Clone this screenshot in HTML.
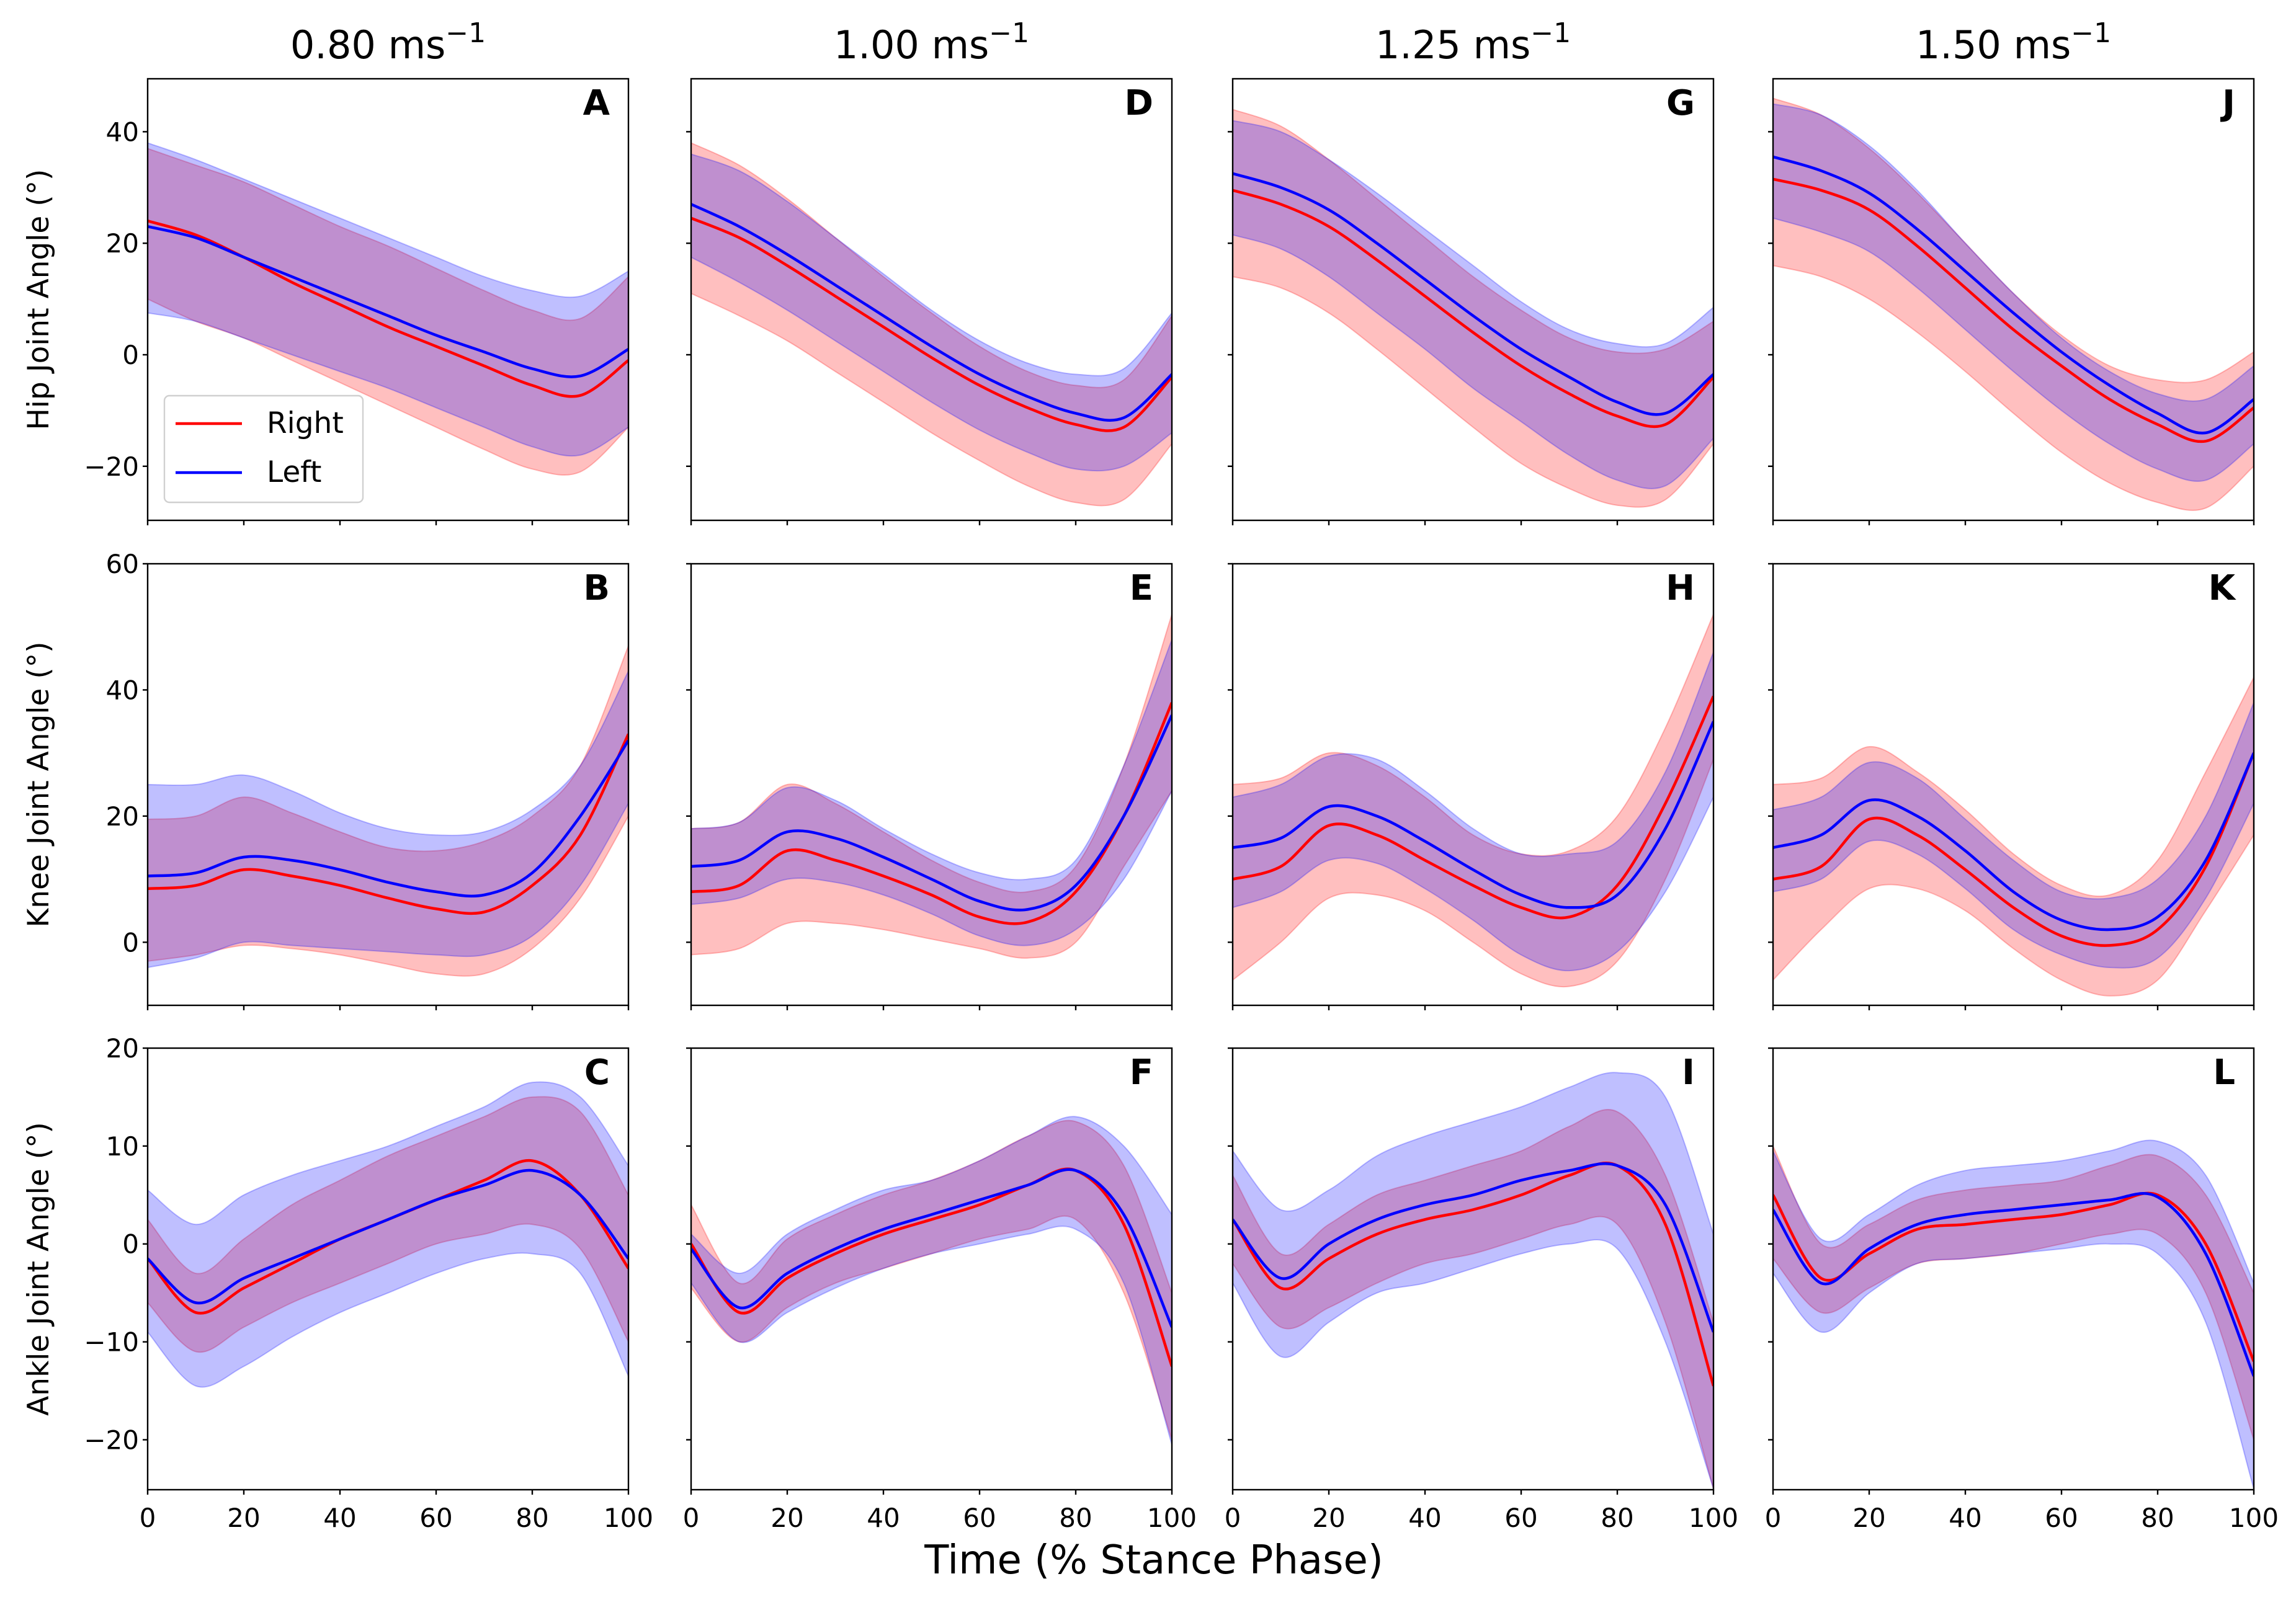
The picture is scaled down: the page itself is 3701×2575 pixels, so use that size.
<!DOCTYPE html>
<html><head><meta charset="utf-8">
<style>
html,body{margin:0;padding:0;background:#fff;}
svg{display:block;font-family:"DejaVu Sans","Liberation Sans",sans-serif;}
</style></head>
<body>
<svg id="fig" width="3701" height="2575" viewBox="0 0 3701 2575" xmlns="http://www.w3.org/2000/svg"></svg>
<script>
// ---- data (x = 0,10,...,100 % stance) ----
const xs = [0,10,20,30,40,50,60,70,80,90,100];
const speeds = ["0.80","1.00","1.25","1.50"];
const joints = ["Hip","Knee","Ankle"];
const letters = [["A","D","G","J"],["B","E","H","K"],["C","F","I","L"]];
const yRanges = [[-29.7,49.5],[-10,60],[-25.1,20]];
const yTicks = [[-20,0,20,40],[0,20,40,60],[-20,-10,0,10,20]];
const xTicks = [0,20,40,60,80,100];

// Hip
const hipA_R = [24,21.5,17.5,13,9,5,1.5,-2,-5.5,-7.3,-1];
const hipA_L = [23,21,17.5,14,10.5,7,3.5,0.5,-2.5,-3.8,1];
const hipA_RU = [37,34,31,27,23,19.5,15.5,11.5,8,6.5,14];
const hipA_RL = [10,6,3,-1,-5,-9,-13,-17,-20.5,-21,-13];
const hipA_LU = [38,35,31.5,28,24.5,21,17.5,14,11.5,10.5,15];
const hipA_LL = [7.5,6,3,0,-3,-6,-9.5,-13,-16.5,-18,-13];

const hipD_R = [24.5,21,16,10.5,5,-0.5,-5.5,-9.5,-12.5,-13,-4];
const hipD_L = [27,23,18,12.5,7,1.5,-3.5,-7.5,-10.5,-11.3,-3.5];
const hipD_RU = [38,34,28,21,14,7.5,1.5,-3,-5.5,-4.5,7];
const hipD_RL = [11,7,2.5,-3,-8.5,-14,-19,-23.5,-26.5,-26,-16];
const hipD_LU = [36,33,27.5,21,14.5,8,2.5,-1.5,-3.5,-2.5,7.5];
const hipD_LL = [17.5,13,8,2.5,-3,-8.5,-13.5,-17.5,-20.5,-20,-14];

const hipG_R = [29.5,27,23,17,10.5,4,-2,-7,-11,-12.5,-4];
const hipG_L = [32.5,30,26,20,13.5,7,1,-4,-8.5,-10.5,-3.5];
const hipG_RU = [44,41,35,28,21,14,8,3,0.5,1,6];
const hipG_RL = [14,12,7.5,1,-6,-13,-19.5,-24,-27,-26,-16];
const hipG_LU = [42,40,35,29,22.5,16,9.5,4.5,2,2,8.5];
const hipG_LL = [21.5,19,14,7.5,1,-6,-12,-18,-22.5,-23.5,-15];

const hipJ_R = [31.5,29.5,26,19.5,12,4.5,-2,-8,-12.5,-15.5,-9.5];
const hipJ_L = [35.5,33,29,22.5,15,7.5,0.5,-5.5,-10.5,-14,-8];
const hipJ_RU = [46,43,37,29,20,11,3.5,-2,-4.5,-4.5,0.5];
const hipJ_RL = [16,14,10,4,-3,-10.5,-17.5,-23,-26.5,-27.5,-20];
const hipJ_LU = [45,43,37.5,29.5,20,11,3,-3,-7,-8,-2];
const hipJ_LL = [24.5,22,18.5,12,4.5,-3,-10,-16,-20.5,-22.5,-16];

// Knee
const kneeB_R = [8.5,9,11.5,10.5,9,7,5.3,4.8,9,17,33];
const kneeB_L = [10.5,11,13.5,13,11.5,9.5,8,7.5,11,20,32];
const kneeB_RU = [19.5,20,23,20.5,17.5,15,14.5,16,20,28,47];
const kneeB_RL = [-3,-2,-0.5,-1,-2,-3.5,-5,-5,-1,7,20];
const kneeB_LU = [25,25,26.5,24,20.5,18,17,17.5,21,28,43];
const kneeB_LL = [-4,-2.5,0,-0.5,-1,-1.5,-2,-2,1,9,22];

const kneeE_R = [8,9,14.5,13,10.5,7.5,4,3.2,8,20,38];
const kneeE_L = [12,13,17.5,16.5,13.5,10,6.5,5.2,9,20,36];
const kneeE_RU = [18,19,25,22,17.5,13,9.5,8,12,28,52];
const kneeE_RL = [-2,-1,3,3,2,0.5,-1,-2.5,0,12,24];
const kneeE_LU = [18,19,24.5,22.5,18,14,11,10,13,28,48];
const kneeE_LL = [6,7,10,9.5,7.5,4.5,1,-0.5,2,10,24];

const kneeH_R = [10,12,18.5,17,13,9,5.5,4,9,22,39];
const kneeH_L = [15,16.5,21.5,20,16,11.5,7.5,5.5,7.5,18,35];
const kneeH_RU = [25,26,30,28,23,17,14,14.5,20,34,52];
const kneeH_RL = [-6,0,7,7.5,5,0,-5,-7,-3,10,29];
const kneeH_LU = [23,25,29.5,29,24,18,14,14,16,27,46];
const kneeH_LL = [5.5,8,13,12.5,8.5,3.5,-2,-4.5,-1.5,8,23];

const kneeK_R = [10,12,19.5,17,11.5,5.5,1,-0.5,2,12,30];
const kneeK_L = [15,17,22.5,20,14.5,8,3.5,2,4,13,30];
const kneeK_RU = [25,26,31,27,21,14,9,7.5,13,27,42];
const kneeK_RL = [-6,2,8.5,8.5,5,-1,-6,-8.5,-6,5,17];
const kneeK_LU = [21,23,28.5,26,19.5,13,8,7,10,20,38];
const kneeK_LL = [8,10,16,14,8.5,2,-2,-4,-2.5,7,22];

// Ankle
const ankC_R = [-1.5,-7,-4.5,-2,0.5,2.5,4.5,6.5,8.5,5,-2.5];
const ankC_L = [-1.5,-6,-3.5,-1.5,0.5,2.5,4.5,6,7.5,5,-1.5];
const ankC_RU = [2.5,-3,0.5,4,6.5,9,11,13,15,13.5,5];
const ankC_RL = [-6,-11,-8.5,-6,-4,-2,0,1,2,-0.5,-10];
const ankC_LU = [5.5,2,5,7,8.5,10,12,14,16.5,15,8];
const ankC_LL = [-9,-14.5,-12.5,-9.5,-7,-5,-3,-1.5,-1,-3,-13.5];

const ankF_R = [0,-7,-3.5,-1,1,2.5,4,6,7.5,2,-12.5];
const ankF_L = [-0.5,-6.5,-3,-0.5,1.5,3,4.5,6,7.5,3,-8.5];
const ankF_RU = [4,-4,0.5,3,5,6.5,8.5,11,12.5,8,-5];
const ankF_RL = [-4.5,-10,-6.5,-4,-2.5,-1,0.5,1.5,2.5,-5,-20];
const ankF_LU = [1,-3,1,3.5,5.5,6.5,8.5,11,13,10,3];
const ankF_LL = [-4,-10,-7,-4.5,-2.5,-1,0,1,1.5,-4,-20.5];

const ankI_R = [2.5,-4.5,-1.5,1,2.5,3.5,5,7,8,2,-14.5];
const ankI_L = [2.5,-3.5,0,2.5,4,5,6.5,7.5,8,4,-9];
const ankI_RU = [7,-1,2,5,6.5,8,9.5,12,13.5,7,-8];
const ankI_RL = [-2,-8.5,-6.5,-4,-2,-1,0.5,2,2,-8,-25];
const ankI_LU = [9.5,3.5,5.5,9,11,12.5,14,16,17.5,15,1];
const ankI_LL = [-4,-11.5,-8,-5,-4,-2.5,-1,0,-0.5,-10,-25];

const ankL_R = [5,-3.5,-1,1.5,2,2.5,3,4,5,0,-12];
const ankL_L = [3.5,-4,-0.5,2,3,3.5,4,4.5,4.8,-1,-13.5];
const ankL_RU = [10,0,2,4.5,5.5,6,6.5,8,9,5,-5];
const ankL_RL = [-1.5,-7,-4.5,-2,-1.5,-1,0,1,1,-5,-20];
const ankL_LU = [9.5,0.5,3,6,7.5,8,8.5,9.5,10.5,7,-4];
const ankL_LL = [-3,-9,-5,-2,-1.5,-1,-0.5,0,-1,-8,-25];

const panels = [
 [[hipA_R,hipA_L,hipA_RU,hipA_RL,hipA_LU,hipA_LL],[hipD_R,hipD_L,hipD_RU,hipD_RL,hipD_LU,hipD_LL],[hipG_R,hipG_L,hipG_RU,hipG_RL,hipG_LU,hipG_LL],[hipJ_R,hipJ_L,hipJ_RU,hipJ_RL,hipJ_LU,hipJ_LL]],
 [[kneeB_R,kneeB_L,kneeB_RU,kneeB_RL,kneeB_LU,kneeB_LL],[kneeE_R,kneeE_L,kneeE_RU,kneeE_RL,kneeE_LU,kneeE_LL],[kneeH_R,kneeH_L,kneeH_RU,kneeH_RL,kneeH_LU,kneeH_LL],[kneeK_R,kneeK_L,kneeK_RU,kneeK_RL,kneeK_LU,kneeK_LL]],
 [[ankC_R,ankC_L,ankC_RU,ankC_RL,ankC_LU,ankC_LL],[ankF_R,ankF_L,ankF_RU,ankF_RL,ankF_LU,ankF_LL],[ankI_R,ankI_L,ankI_RU,ankI_RL,ankI_LU,ankI_LL],[ankL_R,ankL_L,ankL_RU,ankL_RL,ankL_LU,ankL_LL]]
];

// ---- layout ----
const NS="http://www.w3.org/2000/svg";
const svg=document.getElementById('fig');
const colL=[238,1114,1987,2858], PW=775;
const rowT=[127,909,1690], PH=712;
function mk(tag,attrs,parent){const e=document.createElementNS(NS,tag);for(const k in attrs)e.setAttribute(k,attrs[k]);(parent||svg).appendChild(e);return e;}
function smooth(pts){
  let d="M"+pts[0][0].toFixed(1)+","+pts[0][1].toFixed(1);
  for(let i=0;i<pts.length-1;i++){
    const p0=pts[Math.max(0,i-1)],p1=pts[i],p2=pts[i+1],p3=pts[Math.min(pts.length-1,i+2)];
    const c1=[p1[0]+(p2[0]-p0[0])/6,p1[1]+(p2[1]-p0[1])/6];
    const c2=[p2[0]-(p3[0]-p1[0])/6,p2[1]-(p3[1]-p1[1])/6];
    d+=" C"+c1[0].toFixed(1)+","+c1[1].toFixed(1)+" "+c2[0].toFixed(1)+","+c2[1].toFixed(1)+" "+p2[0].toFixed(1)+","+p2[1].toFixed(1);
  }
  return d;
}
function smoothCont(pts){return smooth(pts).replace(/^M/,"L");}

for(let r=0;r<3;r++){
  for(let c=0;c<4;c++){
    const L=colL[c],T=rowT[r],yr=yRanges[r];
    const sx=v=>L+v/100*PW;
    const sy=v=>T+PH-(v-yr[0])/(yr[1]-yr[0])*PH;
    const g=mk('g',{});
    
    
    const cid='clip'+r+c;
    const cp=mk('clipPath',{id:cid},g);mk('rect',{x:L,y:T,width:PW,height:PH},cp);
    const pg=mk('g',{'clip-path':'url(#'+cid+')'},g);
    const [R,Lf,RU,RL,LU,LL]=panels[r][c];
    function band(U,D,color,name){
      const up=xs.map((x,i)=>[sx(x),sy(U[i])]);
      const dn=xs.map((x,i)=>[sx(x),sy(D[i])]).reverse();
      const p=mk('path',{d:smooth(up)+" "+smoothCont(dn)+" Z",fill:color,'fill-opacity':0.25,stroke:color,'stroke-opacity':0.25,'stroke-width':2},pg);
      
      
    }
    band(RU,RL,'#ff0000','right-band');
    band(LU,LL,'#0000ff','left-band');
    function line(V,color,name){
      const p=mk('path',{d:smooth(xs.map((x,i)=>[sx(x),sy(V[i])])),fill:'none',stroke:color,'stroke-width':4.5},pg);
      
      
    }
    line(R,'#ff0000','right-mean-line');
    line(Lf,'#0000ff','left-mean-line');
    const fr=mk('rect',{x:L,y:T,width:PW,height:PH,fill:'none',stroke:'#000','stroke-width':2.4},g);
    
    
    yTicks[r].forEach(t=>{
      mk('line',{x1:L-8,x2:L,y1:sy(t),y2:sy(t),stroke:'#000','stroke-width':2.4},g);
      if(c===0){
        const tx=mk('text',{x:L-14,y:sy(t)+15,'font-size':42,'text-anchor':'end',fill:'#000'},g);
        tx.textContent=t<0?"\u2212"+(-t):""+t;
        
        
      }
    });
    xTicks.forEach(t=>{
      mk('line',{x1:sx(t),x2:sx(t),y1:T+PH,y2:T+PH+8,stroke:'#000','stroke-width':2.4},g);
      if(r===2){
        const tx=mk('text',{x:sx(t),y:T+PH+60,'font-size':42,'text-anchor':'middle',fill:'#000'},g);
        tx.textContent=""+t;
        
        
      }
    });
    const lt=mk('text',{x:L+PW-30,y:T+58,'font-size':56,'font-weight':'bold','text-anchor':'end',fill:'#000'},g);
    lt.textContent=letters[r][c];
    
    
  }
  const yl=mk('text',{x:0,y:0,'font-size':47,'text-anchor':'middle',fill:'#000',transform:'translate(78,'+(rowT[r]+PH/2)+') rotate(-90)'});
  yl.textContent=joints[r]+" Joint Angle (\u00B0)";
  
  
}
speeds.forEach((s,c)=>{
  const t=mk('text',{x:colL[c]+PW/2,y:94,'font-size':62,'text-anchor':'middle',fill:'#000'});
  
  
  t.appendChild(document.createTextNode(s+" ms"));
  const sp=mk('tspan',{'font-size':44,dy:-26},t);sp.textContent="\u22121";
});
const xl=mk('text',{x:1860,y:2537,'font-size':64,'text-anchor':'middle',fill:'#000'});
xl.textContent="Time (% Stance Phase)";


const lg=mk('g',{});


mk('rect',{x:265,y:638,width:320,height:172,rx:8,fill:'#fff','fill-opacity':0.8,stroke:'#d0d0d0','stroke-width':2.4},lg);
mk('line',{x1:283,x2:390,y1:683,y2:683,stroke:'#ff0000','stroke-width':4.5},lg);
mk('line',{x1:283,x2:390,y1:762,y2:762,stroke:'#0000ff','stroke-width':4.5},lg);
const l1=mk('text',{x:430,y:698,'font-size':47,fill:'#000'},lg);l1.textContent="Right";


const l2=mk('text',{x:430,y:777,'font-size':47,fill:'#000'},lg);l2.textContent="Left";


</script>
</body></html>
